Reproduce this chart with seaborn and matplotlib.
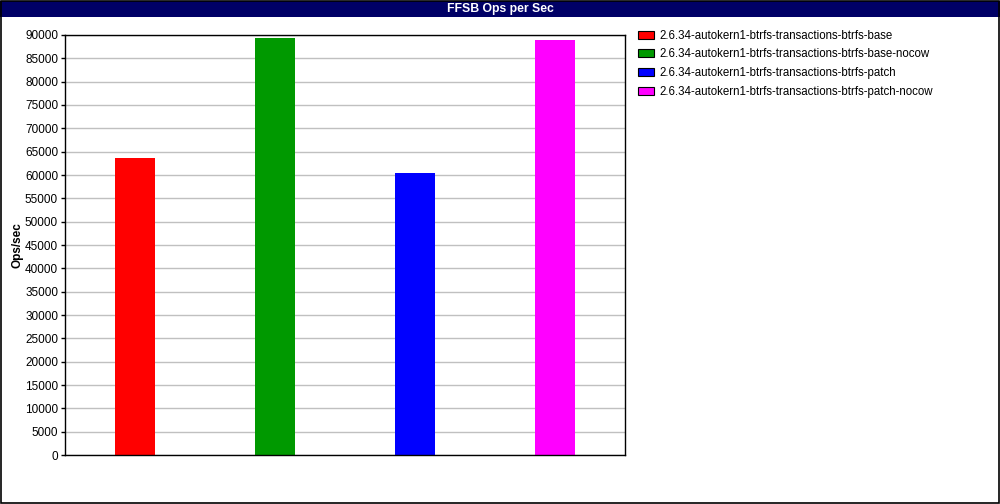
import matplotlib
matplotlib.use('Agg')
import matplotlib.pyplot as plt
import seaborn as sns
import pandas as pd
from matplotlib.patches import Rectangle, Patch

title = "FFSB Ops per Sec"
ylabel = "Ops/sec"
series = [
    "2.6.34-autokern1-btrfs-transactions-btrfs-base",
    "2.6.34-autokern1-btrfs-transactions-btrfs-base-nocow",
    "2.6.34-autokern1-btrfs-transactions-btrfs-patch",
    "2.6.34-autokern1-btrfs-transactions-btrfs-patch-nocow",
]
values = [63650, 89350, 60450, 88950]
colors = ["#ff0000", "#009900", "#0000ff", "#ff00ff"]
yticks = list(range(0, 90001, 5000))

sns.set_theme(style="white")
plt.rcParams["font.family"] = ["Liberation Sans", "DejaVu Sans"]
plt.rcParams["text.color"] = "black"
plt.rcParams["axes.labelcolor"] = "black"
plt.rcParams["ytick.color"] = "black"

W, H = 1000, 504
fig = plt.figure(figsize=(W / 100, H / 100), dpi=100)
fig.patch.set_facecolor("white")

ax = fig.add_axes([65 / W, (H - 455) / H, 560 / W, 420 / H])
df = pd.DataFrame({"series": series, "value": values})
sns.barplot(data=df, x="series", y="value", hue="series", palette=colors,
            width=0.2857, dodge=False, legend=False, saturation=1,
            linewidth=0, edgecolor="none", ax=ax)
ax.set_xlim(-0.5, 3.5)
ax.set_ylim(0, 90000)
ax.set_yticks(yticks)
ax.set_yticklabels([str(t) for t in yticks], fontsize=8.5)
ax.set_xticks([])
ax.set_xlabel("")
ax.set_ylabel("")
ax.yaxis.grid(True, color="#c0c0c0", linewidth=1)
ax.set_axisbelow(True)
ax.tick_params(axis="y", length=3, width=1, color="black", pad=2, left=True, labelcolor="black")
for s in ax.spines.values():
    s.set_color("black")
    s.set_linewidth(1)

fig.text(17 / W, (H - 245) / H, ylabel, rotation=90, fontsize=8.5, fontweight="bold",
         ha="center", va="center", color="black")

# title bar
fig.patches.append(Rectangle((0, (H - 17) / H), 1, 16 / H, transform=fig.transFigure,
                             facecolor="#000066", edgecolor="none", zorder=0))
fig.text(0.5, (H - 9) / H, title, color="white", fontsize=8.8, fontweight="bold",
         ha="center", va="center")
# outer border
fig.patches.append(Rectangle((0.0005, 0.001), 0.998, 0.997, transform=fig.transFigure,
                             facecolor="none", edgecolor="black", linewidth=1.2, zorder=5))

handles = [Patch(facecolor=c, edgecolor="black", linewidth=0.8) for c in colors]
fig.legend(handles, series, loc="upper left", bbox_to_anchor=(633 / W, (H - 25) / H),
           frameon=False, fontsize=8.3, handlelength=1.4, handleheight=0.7,
           handletextpad=0.45, labelspacing=0.58, borderaxespad=0)

fig.savefig("out.png", dpi=100)
